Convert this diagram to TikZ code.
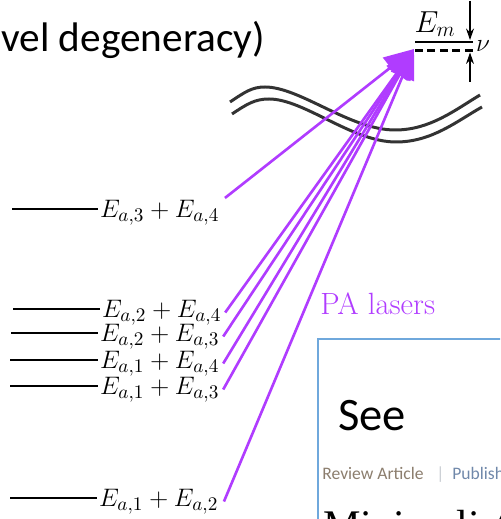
\documentclass[tikz,border=0pt]{standalone}
\usepackage{fontspec}
\newfontfamily\slidefont{Carlito}
\newfontfamily\paperserif{Liberation Serif}
\usetikzlibrary{arrows.meta}
\definecolor{laserPurple}{HTML}{B03CFF}
\definecolor{waveGray}{HTML}{333333}
\definecolor{boxBorder}{HTML}{6FA8DC}
\definecolor{tagBrown}{HTML}{8C7E6E}
\definecolor{tagBlue}{HTML}{7088AA}
\definecolor{tagBar}{HTML}{C8CCD2}

\begin{document}
\begin{tikzpicture}[x=0.02cm, y=-0.02cm,
    level/.style={line width=1.5pt},
    levellabel/.style={anchor=west, inner sep=1pt, font=\fontsize{15.4}{18}\selectfont, yshift=-2pt},
    laser/.style={-{Triangle[length=17pt,width=14pt]}, line width=1.5pt, draw=laserPurple},
    breakline/.style={line width=1.7pt, draw=waveGray},
    gaparrow/.style={-{Stealth[length=6.5pt,width=4.5pt]}, line width=0.6pt}
]
  \clip (0,0) rectangle (500,519);

  % slide title, cut at the left edge
  \node[anchor=base west, inner sep=0pt, font=\slidefont\fontsize{23.5}{28}\selectfont] (title) at (1,52) {vel degeneracy)};

  % pair levels
  \coordinate (s34) at (12,209);
  \node[levellabel] (l34) at (98,209) {$E_{a,3}+E_{a,4}$};
  \coordinate (s24) at (13,309);
  \node[levellabel] (l24) at (100,309) {$E_{a,2}+E_{a,4}$};
  \coordinate (s23) at (11,333);
  \node[levellabel] (l23) at (98,333) {$E_{a,2}+E_{a,3}$};
  \coordinate (s14) at (10,360);
  \node[levellabel] (l14) at (98,360) {$E_{a,1}+E_{a,4}$};
  \coordinate (s13) at (10,386);
  \node[levellabel] (l13) at (98,386) {$E_{a,1}+E_{a,3}$};
  \coordinate (s12) at (10,498);
  \node[levellabel] (l12) at (97,498) {$E_{a,1}+E_{a,2}$};

  \draw[level] (s34) -- (s34 -| l34.west);
  \draw[level] (s24) -- (s24 -| l24.west);
  \draw[level] (s23) -- (s23 -| l23.west);
  \draw[level] (s14) -- (s14 -| l14.west);
  \draw[level] (s13) -- (s13 -| l13.west);
  \draw[level] (s12) -- (s12 -| l12.west);

  % molecular level and detuning
  \coordinate (emw) at (415,42);
  \coordinate (eme) at (473,42);
  \coordinate (dw) at (415,50.5);
  \coordinate (de) at (473,50.5);
  \draw[level] (emw) -- (eme);
  \draw[line width=1.2pt, dash pattern=on 4.5pt off 2.6pt] (dw) -- (de);
  \node[font=\LARGE] (em) at (435,24) {$E_m$};
  \node[anchor=west, inner sep=1pt, font=\Large] (nu) at (474,46) {$\nu$};
  \coordinate (gaptop) at (470,1);
  \coordinate (gapa) at (470,40);
  \coordinate (gapbot) at (470,82);
  \coordinate (gapb) at (470,52.5);
  \draw[gaparrow] (gaptop) -- (gapa);
  \draw[gaparrow] (gapbot) -- (gapb);

  % axis break
  \draw[breakline] (230,102) .. controls (245,92) and (252,87) .. (265,87)
      .. controls (300,87) and (350,130) .. (395,130)
      .. controls (430,130) and (455,110) .. (480,95);
  \draw[breakline] (232,114) .. controls (247,104) and (255,99) .. (269,99)
      .. controls (304,99) and (352,142) .. (396,142)
      .. controls (432,142) and (457,121) .. (482,107);

  % PA lasers
  \coordinate (tip) at (414,49);
  \draw[laser] ([xshift=2pt]l34.north east) -- (tip);
  \draw[laser] ([xshift=1pt]l24.east) -- (tip);
  \draw[laser] ([xshift=1pt]l23.east) -- (tip);
  \draw[laser] ([xshift=1pt]l14.east) -- (tip);
  \draw[laser] ([xshift=1pt]l13.east) -- (tip);
  \draw[laser] ([xshift=2pt]l12.east) -- (tip);
  \node[anchor=base west, inner sep=0pt, text=laserPurple, font=\fontsize{17.5}{21}\selectfont] (pa) at (320,315) {PA lasers};

  % article snippet
  \draw[line width=1.2pt, draw=boxBorder, fill=white] (318,339) rectangle (520,540);
  \node[anchor=base west, inner sep=0pt, font=\slidefont\fontsize{26.5}{30}\selectfont] (see) at (338,430) {See};
  \node[anchor=base west, inner sep=0pt, font=\slidefont\fontsize{10}{12}\selectfont, text=tagBrown] (tag) at (322,479) {Review Article};
  \node[anchor=base west, inner sep=0pt, font=\slidefont\fontsize{10}{12}\selectfont, text=tagBar] (bar) at (436,479) {|};
  \node[anchor=base west, inner sep=0pt, font=\slidefont\fontsize{10}{12}\selectfont, text=tagBlue] (pub) at (452,479) {Publish};
  \node[anchor=base west, inner sep=0pt, font=\paperserif\fontsize{24}{28}\selectfont] (paper) at (323,539) {Minimalist};
\end{tikzpicture}
\end{document}
